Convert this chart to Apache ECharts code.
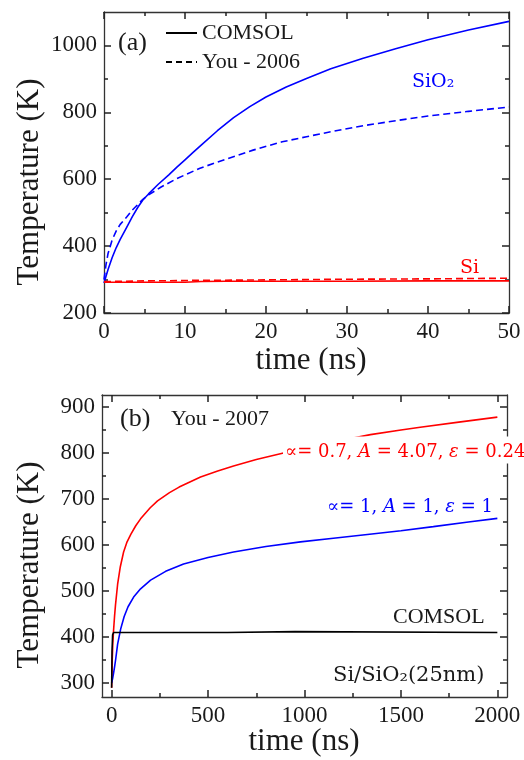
<!DOCTYPE html>
<html>
<head>
<meta charset="utf-8">
<script src="https://cdn.jsdelivr.net/npm/echarts@6/dist/echarts.min.js"></script>
<style>
html,body{margin:0;padding:0;background:#fff;}
#chart{width:524px;height:760px;}
</style>
</head>
<body>
<div id="chart"></div>
<script>
// ---------- Data: panel (a) ----------
const tSiO2Comsol = [0, 0.5, 1, 1.5, 2, 2.8, 3.5, 4.2, 4.8, 5.5, 6.7, 8, 9, 10, 11, 12, 14, 16, 18, 20, 22.5, 25, 28, 32, 36, 40, 45, 50];
const sio2Comsol  = [290, 330, 365, 395, 420, 456, 488, 517, 538, 556, 585, 613, 636, 658, 680, 702, 745, 784, 817, 846, 876, 901, 930, 962, 990, 1017, 1046, 1072];
const tSiO2You    = [0, 0.25, 0.5, 1, 1.5, 2, 2.8, 3.5, 4.2, 4.8, 5.5, 7, 9, 11.85, 14, 18.4, 22, 25, 28, 32, 36, 40, 45, 50];
const sio2You     = [300, 345, 378, 418, 445, 465, 487, 508, 525, 540, 553, 576, 602, 633, 651, 687, 712, 727, 742, 760, 775, 789, 803, 816];
const tSi         = [0, 5, 10, 12, 15, 20, 30, 40, 50];
const siComsol    = [292, 292, 292, 294, 295, 295, 295, 296, 296];
const siYou       = [294, 296, 297, 298, 298, 299, 301, 302, 304];
const xTicksA      = [0, 10, 20, 30, 40, 50];
const xMinorTicksA = [5, 15, 25, 35, 45];
const yTicksA      = [200, 400, 600, 800, 1000];
const yMinorTicksA = [300, 500, 700, 900];

// ---------- Data: panel (b) ----------
const tRedB  = [0, 3, 6, 10, 15, 20, 31, 45, 62, 80, 100, 125, 150, 200, 238, 300, 350, 400, 461, 550, 632, 750, 891, 1000, 1100, 1200, 1342, 1500, 1600, 1800, 2000];
const redB   = [290, 350, 385, 415, 445, 470, 515, 553, 585, 607, 624, 642, 657, 681, 696, 714, 726, 736, 748, 761, 772, 786, 800, 810, 819, 828, 840, 850, 856, 867, 878];
const tBlueB = [0, 5, 10, 15, 21, 31, 47, 65, 85, 114, 150, 202, 280, 373, 500, 632, 800, 979, 1150, 1326, 1500, 1668, 1850, 2000];
const blueB  = [300, 310, 322, 335, 352, 385, 418, 445, 466, 487, 505, 524, 543, 559, 573, 585, 597, 607, 615, 623, 631, 640, 650, 658];
const tComsolB = [0, 2, 5, 10, 600, 610, 950, 960, 2000];
const comsolB  = [290, 370, 405, 410, 410, 412, 412, 410, 410];
const xTicksB      = [0, 500, 1000, 1500, 2000];
const xMinorTicksB = [250, 750, 1250, 1750];
const yTicksB      = [300, 400, 500, 600, 700, 800, 900];
const yMinorTicksB = [350, 450, 550, 650, 750, 850];

const zip = (xs, ys) => xs.map((x, i) => [x, ys[i]]);

const SERIF = 'Liberation Serif';
const MATH = 'DejaVu Serif';
const FRAME = '#333';
const TXT = '#1a1a1a';

function axis(grid, pos, min, max, ticks, len, labels) {
  return {
    type: 'value', gridIndex: grid, position: pos, min: min, max: max,
    axisLine: { show: len > 4, onZero: false, lineStyle: { color: FRAME, width: 1.3 } },
    axisTick: { show: true, inside: true, length: len, customValues: ticks, lineStyle: { color: '#222', width: 1.5 } },
    axisLabel: labels ? { show: true, customValues: ticks, formatter: v => String(v), fontFamily: SERIF, fontSize: 23, color: TXT, margin: 7 } : { show: false },
    splitLine: { show: false }
  };
}

const chart = echarts.init(document.getElementById('chart'), null, { renderer: 'canvas' });

const option = {
  animation: false,
  backgroundColor: '#fff',
  grid: [
    { left: 104, width: 405, top: 12, height: 301 },
    { left: 102, width: 405, top: 395, height: 302 }
  ],
  xAxis: [
    axis(0, 'bottom', 0, 50, xTicksA, 7, true),
    axis(0, 'bottom', 0, 50, xMinorTicksA, 4, false),
    axis(0, 'top', 0, 50, xTicksA, 7, false),
    axis(0, 'top', 0, 50, xMinorTicksA, 4, false),
    axis(1, 'bottom', -50, 2050, xTicksB, 7, true),
    axis(1, 'bottom', -50, 2050, xMinorTicksB, 4, false),
    axis(1, 'top', -50, 2050, xTicksB, 7, false),
    axis(1, 'top', -50, 2050, xMinorTicksB, 4, false)
  ],
  yAxis: [
    axis(0, 'left', 200, 1100, yTicksA, 7, true),
    axis(0, 'left', 200, 1100, yMinorTicksA, 4, false),
    axis(0, 'right', 200, 1100, yTicksA, 7, false),
    axis(0, 'right', 200, 1100, yMinorTicksA, 4, false),
    axis(1, 'left', 270, 926, yTicksB, 7, true),
    axis(1, 'left', 270, 926, yMinorTicksB, 4, false),
    axis(1, 'right', 270, 926, yTicksB, 7, false),
    axis(1, 'right', 270, 926, yMinorTicksB, 4, false)
  ],
  legend: {
    orient: 'vertical', left: 160, top: 17, itemWidth: 31, itemHeight: 14, itemGap: 7,
    data: ['COMSOL', 'You - 2006'],
    itemStyle: { opacity: 0 },
    textStyle: { fontFamily: SERIF, fontSize: 22, color: TXT },
    selectedMode: false
  },
  series: [
    { name: 'COMSOL', type: 'line', data: [], symbol: 'none', xAxisIndex: 0, yAxisIndex: 0,
      itemStyle: { color: '#000' }, lineStyle: { color: '#000', width: 1.6, type: 'solid' } },
    { name: 'You - 2006', type: 'line', data: [], symbol: 'none', xAxisIndex: 0, yAxisIndex: 0,
      itemStyle: { color: '#000' }, lineStyle: { color: '#000', width: 1.6, type: [6, 4] } },
    { name: 'SiO2 COMSOL', type: 'line', data: zip(tSiO2Comsol, sio2Comsol), symbol: 'none',
      xAxisIndex: 0, yAxisIndex: 0, lineStyle: { color: '#0000ff', width: 1.6 } },
    { name: 'SiO2 You', type: 'line', data: zip(tSiO2You, sio2You), symbol: 'none',
      xAxisIndex: 0, yAxisIndex: 0, lineStyle: { color: '#0000ff', width: 1.6, type: [7, 4] } },
    { name: 'Si COMSOL', type: 'line', data: zip(tSi, siComsol), symbol: 'none',
      xAxisIndex: 0, yAxisIndex: 0, lineStyle: { color: '#ff0000', width: 1.6 } },
    { name: 'Si You', type: 'line', data: zip(tSi, siYou), symbol: 'none',
      xAxisIndex: 0, yAxisIndex: 0, lineStyle: { color: '#ff0000', width: 1.6, type: [7, 4] } },
    { name: 'alpha 0.7', type: 'line', data: zip(tRedB, redB), symbol: 'none',
      xAxisIndex: 4, yAxisIndex: 4, lineStyle: { color: '#ff0000', width: 1.6 } },
    { name: 'alpha 1', type: 'line', data: zip(tBlueB, blueB), symbol: 'none',
      xAxisIndex: 4, yAxisIndex: 4, lineStyle: { color: '#0000ff', width: 1.6 } },
    { name: 'COMSOL b', type: 'line', data: zip(tComsolB, comsolB), symbol: 'none',
      xAxisIndex: 4, yAxisIndex: 4, lineStyle: { color: '#000', width: 1.6 } }
  ],
  graphic: [
    { type: 'text', x: 30, y: 182, rotation: Math.PI / 2, z: 100, style: { text: 'Temperature (K)', fontFamily: SERIF, fontSize: 31, fill: TXT, align: 'center', verticalAlign: 'middle' } },
    { type: 'text', x: 311, y: 361, z: 100, style: { text: 'time (ns)', fontFamily: SERIF, fontSize: 31, fill: TXT, align: 'center', verticalAlign: 'middle' } },
    { type: 'text', x: 30, y: 565, rotation: Math.PI / 2, z: 100, style: { text: 'Temperature (K)', fontFamily: SERIF, fontSize: 31, fill: TXT, align: 'center', verticalAlign: 'middle' } },
    { type: 'text', x: 304, y: 742, z: 100, style: { text: 'time (ns)', fontFamily: SERIF, fontSize: 31, fill: TXT, align: 'center', verticalAlign: 'middle' } },
    { type: 'text', x: 118, y: 43, z: 100, style: { text: '(a)', fontFamily: SERIF, fontSize: 26, fill: TXT, verticalAlign: 'middle' } },
    { type: 'text', x: 412, y: 82, z: 100, style: { text: 'SiO\u2082', fontFamily: MATH, fontSize: 19, fill: '#0000ff', verticalAlign: 'middle' } },
    { type: 'text', x: 460, y: 268, z: 100, style: { text: 'Si', fontFamily: MATH, fontSize: 19, fill: '#ff0000', verticalAlign: 'middle' } },
    { type: 'text', x: 120, y: 419, z: 100, style: { text: '(b)', fontFamily: SERIF, fontSize: 26, fill: TXT, verticalAlign: 'middle' } },
    { type: 'text', x: 171, y: 419, z: 100, style: { text: 'You - 2007', fontFamily: SERIF, fontSize: 22, fill: TXT, verticalAlign: 'middle' } },
    { type: 'text', x: 283, y: 450, z: 100, style: {
        text: '\u221D= 0.7, {i|A} = 4.07, {i|\u03B5} = 0.24', fontFamily: MATH, fontSize: 18, fill: '#ff0000',
        verticalAlign: 'middle', backgroundColor: '#fff', padding: [7, 2, 2, 2],
        rich: { i: { fontFamily: MATH, fontSize: 18, fontStyle: 'italic', fill: '#ff0000' } } } },
    { type: 'text', x: 327, y: 507, z: 100, style: {
        text: '\u221D= 1, {i|A} = 1, {i|\u03B5} = 1', fontFamily: MATH, fontSize: 18, fill: '#0000ff',
        verticalAlign: 'middle',
        rich: { i: { fontFamily: MATH, fontSize: 18, fontStyle: 'italic', fill: '#0000ff' } } } },
    { type: 'text', x: 393, y: 617, z: 100, style: { text: 'COMSOL', fontFamily: SERIF, fontSize: 22, fill: TXT, verticalAlign: 'middle' } },
    { type: 'text', x: 333, y: 676, z: 100, style: { text: 'Si/SiO\u2082(25nm)', fontFamily: MATH, fontSize: 21, fill: TXT, verticalAlign: 'middle' } }
  ]
};
chart.setOption(option);
</script>
</body>
</html>
